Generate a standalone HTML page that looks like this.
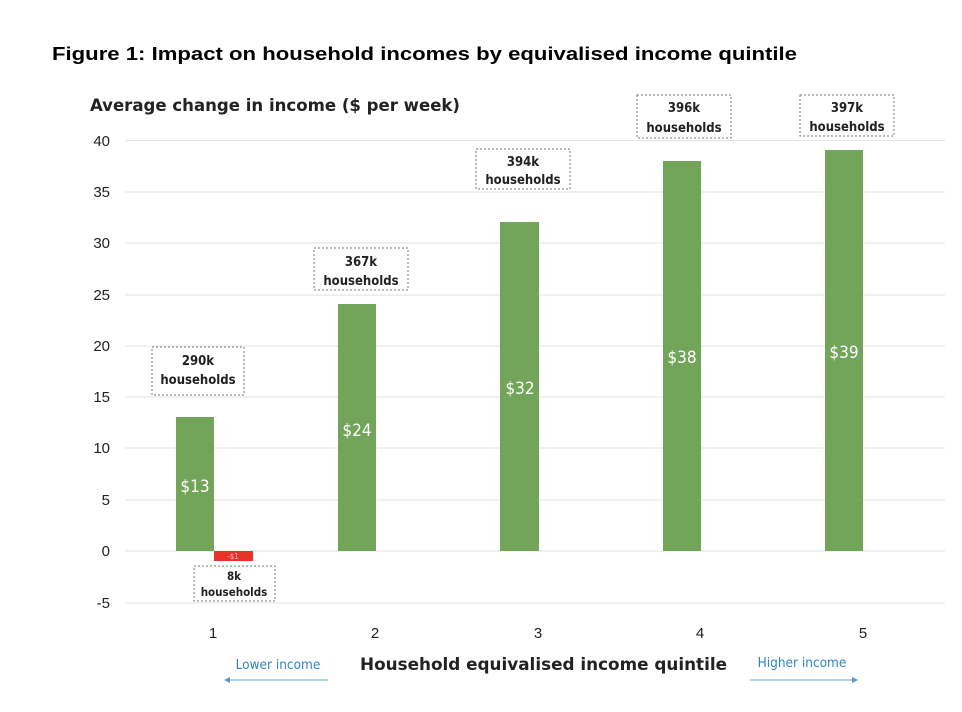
<!DOCTYPE html>
<html><head><meta charset="utf-8"><style>
html,body{margin:0;padding:0;background:#fff;}
svg{display:block;}
.t{font-family:"Liberation Sans",sans-serif;}
.c{font-family:"DejaVu Sans Condensed","DejaVu Sans","Liberation Sans",sans-serif;}
</style></head><body>
<svg width="962" height="712" viewBox="0 0 962 712" xmlns="http://www.w3.org/2000/svg">
<text x="52" y="60" class="t" font-size="18.5" font-weight="bold" fill="#000" textLength="745" lengthAdjust="spacingAndGlyphs">Figure 1: Impact on household incomes by equivalised income quintile</text>
<text x="90" y="111" class="c" font-size="16.5" font-weight="bold" fill="#222" textLength="370" lengthAdjust="spacingAndGlyphs">Average change in income ($ per week)</text>
<g stroke="#e3e3e3" stroke-width="1">
<line x1="125" x2="945" y1="140.5" y2="140.5"/>
<line x1="125" x2="945" y1="192" y2="192"/>
<line x1="125" x2="945" y1="243" y2="243"/>
<line x1="125" x2="945" y1="295" y2="295"/>
<line x1="125" x2="945" y1="346" y2="346"/>
<line x1="125" x2="945" y1="397" y2="397"/>
<line x1="125" x2="945" y1="448" y2="448"/>
<line x1="125" x2="945" y1="500" y2="500"/>
<line x1="125" x2="945" y1="551" y2="551"/>
<line x1="125" x2="945" y1="603" y2="603"/>
</g>
<g class="t" font-size="15" fill="#222" text-anchor="end">
<text x="110" y="146">40</text><text x="110" y="197">35</text><text x="110" y="248">30</text>
<text x="110" y="300">25</text><text x="110" y="351">20</text><text x="110" y="402">15</text>
<text x="110" y="453">10</text><text x="110" y="505">5</text><text x="110" y="556">0</text>
<text x="110" y="608">-5</text>
</g>
<g fill="#72a55a">
<rect x="176" y="417" width="38" height="134"/>
<rect x="338" y="304" width="38" height="247"/>
<rect x="500" y="222" width="39" height="329"/>
<rect x="663" y="161" width="38" height="390"/>
<rect x="825" y="150" width="38" height="401"/>
</g>
<rect x="214" y="551" width="39" height="10" fill="#e8322a"/>
<text x="233" y="559" class="c" font-size="8" fill="#fbb" text-anchor="middle">-$1</text>
<g class="c" font-size="17" fill="#fff" text-anchor="middle">
<text x="195" y="492">$13</text><text x="357" y="436">$24</text>
<text x="520" y="394">$32</text><text x="682" y="363">$38</text><text x="844" y="358">$39</text>
</g>
<g fill="#fff" stroke="#777" stroke-width="1" stroke-dasharray="2,2">
<rect x="152" y="347" width="92" height="48"/>
<rect x="314" y="248" width="94" height="42"/>
<rect x="476" y="149" width="94" height="40"/>
<rect x="637" y="95" width="94" height="43"/>
<rect x="800" y="95" width="94" height="41"/>
<rect x="194" y="566" width="81" height="35"/>
</g>
<g class="c" font-size="13" font-weight="bold" fill="#222" text-anchor="middle">
<text x="198" y="365">290k</text><text x="198" y="384">households</text>
<text x="361" y="266">367k</text><text x="361" y="285">households</text>
<text x="523" y="166">394k</text><text x="523" y="184">households</text>
<text x="684" y="112">396k</text><text x="684" y="132">households</text>
<text x="847" y="112">397k</text><text x="847" y="131">households</text>
<text x="234" y="580" font-size="11.5">8k</text><text x="234" y="596" font-size="11.5">households</text>
</g>
<g class="t" font-size="15" fill="#222" text-anchor="middle">
<text x="213" y="638">1</text><text x="375" y="638">2</text><text x="538" y="638">3</text>
<text x="700" y="638">4</text><text x="863" y="638">5</text>
</g>
<text x="360" y="670" class="c" font-size="17" font-weight="bold" fill="#222" textLength="367" lengthAdjust="spacingAndGlyphs">Household equivalised income quintile</text>
<text x="278" y="669" class="c" font-size="13.5" fill="#2e86c1" text-anchor="middle">Lower income</text>
<text x="802" y="667" class="c" font-size="13.5" fill="#2e86c1" text-anchor="middle">Higher income</text>
<line x1="228" x2="328" y1="680" y2="680" stroke="#8ab8d8" stroke-width="1.2"/>
<polygon points="224,680 230,677 230,683" fill="#5a9bc8"/>
<line x1="750" x2="854" y1="680" y2="680" stroke="#8ab8d8" stroke-width="1.2"/>
<polygon points="858,680 852,677 852,683" fill="#5a9bc8"/>
</svg>
</body></html>
